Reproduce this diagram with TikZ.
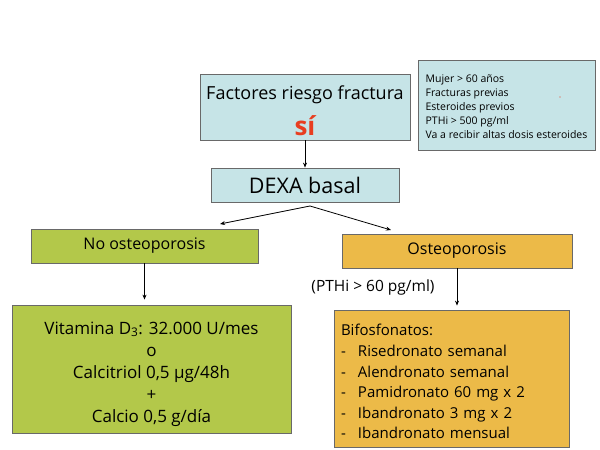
\documentclass[tikz,border=0pt]{standalone}
\usepackage{fontspec}
\setmainfont{Open Sans}
\usetikzlibrary{arrows.meta,positioning}
\definecolor{boxblue}{RGB}{198,228,231}
\definecolor{boxgreen}{RGB}{179,200,74}
\definecolor{boxorange}{RGB}{236,186,72}
\definecolor{sired}{RGB}{232,62,32}
\definecolor{edgegray}{RGB}{105,105,105}
\newcommand{\itemdash}{\makebox[17pt][l]{-}}

\begin{document}
\begin{tikzpicture}[x=1pt,y=-1pt,
	box/.style={draw=edgegray,line width=0.8pt,inner sep=0pt,align=center},
	arr/.style={-{Stealth[length=5pt,width=4pt]},line width=0.8pt}]
		\useasboundingbox (0,0) rectangle (600,450);
		% top row
		\node[box,fill=boxblue,minimum width=210pt,minimum height=66pt,font=\fontsize{18}{22}\selectfont] (riesgo) at (305,107)
		{\rule{0pt}{21pt}Factores riesgo fractura\\[11pt]{\fontsize{26}{26}\selectfont\bfseries\color{sired}sí}};
		\node[box,fill=boxblue,minimum width=177pt,minimum height=90pt,align=left,font=\fontsize{10.5}{14.2}\selectfont] (criterios) at (506.5,105)
		{\rule{0pt}{11pt}Mujer > 60 años\\Fracturas previas\\Esteroides previos\\PTHi > 500 pg/ml\\Va a recibir altas dosis esteroides};
		\fill[sired] (560,97) circle (0.6);
		\node[box,fill=boxblue,minimum width=188pt,minimum height=34pt,font=\fontsize{21.5}{24}\selectfont] (dexa) at (305,185) {DEXA basal};
		% second row
		\node[box,fill=boxgreen,minimum width=227pt,minimum height=34pt,font=\fontsize{16}{20}\selectfont] (noost) at (144.5,246) {No osteoporosis};
		\node[box,fill=boxorange,minimum width=230pt,minimum height=34pt,font=\fontsize{16}{20}\selectfont] (ost) at (457,251) {Osteoporosis};
		\node[font=\fontsize{15.5}{18}\selectfont] (pthi) at (373,287) {(PTHi > 60 pg/ml)};
		% bottom row
		\node[box,fill=boxgreen,minimum width=279pt,minimum height=128pt,font=\fontsize{17}{22.2}\selectfont] (vitd) at (151.5,369)
		{\rule{0pt}{23pt}Vitamina D\textsubscript{3}: 32.000 U/mes\\o\\Calcitriol 0,5 µg/48h\\+\\Calcio 0,5 g/día};
		\node[box,fill=boxorange,minimum width=235pt,minimum height=137pt,text width=221pt,align=left,font=\fontsize{15}{20.6}\selectfont] (bifos) at (451.5,378.5)
		{\rule{0pt}{18pt}Bifosfonatos:\\\itemdash Risedronato semanal\\\itemdash Alendronato semanal\\\itemdash Pamidronato 60 mg x 2\\\itemdash Ibandronato 3 mg x 2\\\itemdash Ibandronato mensual};
		% arrows
		\coordinate (split) at (310,206);
		\coordinate (tipl) at (220,224);
		\coordinate (tipr) at (391,230);
		\draw[arr] (riesgo.south) -- (dexa.north);
		\draw[arr] (split) -- (tipl);
		\draw[arr] (split) -- (tipr);
		\draw[arr,shorten >=5pt] (noost.south) -- (noost.south |- vitd.north);
		\draw[arr,shorten >=4pt] (ost.south) -- (ost.south |- bifos.north);
	\end{tikzpicture}
\end{document}
